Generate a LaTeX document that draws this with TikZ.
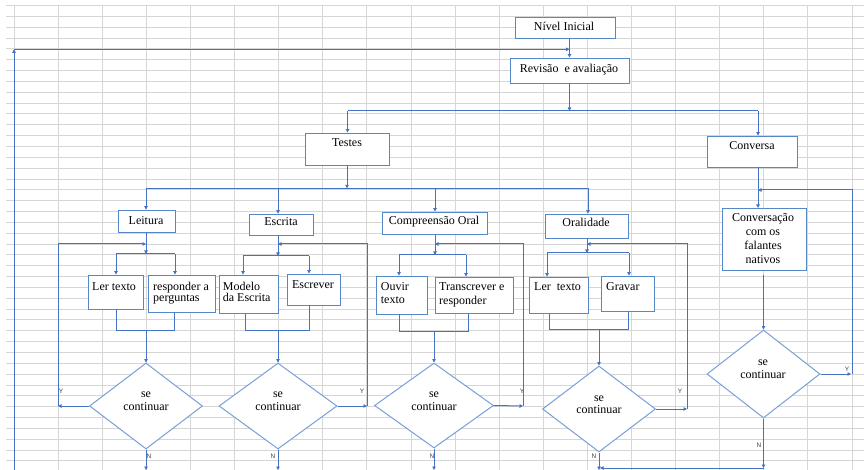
\documentclass[tikz,border=0pt]{standalone}
\usepackage{fontspec}
\setmainfont{Liberation Serif}
\newfontfamily\ynfont{Liberation Sans}
\usetikzlibrary{arrows.meta,shapes.geometric}
\definecolor{conn}{RGB}{68,114,196}
\definecolor{boxc}{RGB}{84,136,200}
\definecolor{dia}{RGB}{120,160,215}
\definecolor{gridc}{RGB}{214,214,214}
\newcommand\fstrut{\rule{0pt}{9pt}}
\begin{document}
\begin{tikzpicture}[x=1pt,y=-1pt,
  box/.style={draw=boxc,line width=0.9pt,fill=white,inner sep=0pt},
  dmd/.style={diamond,draw=dia,line width=1pt,fill=white,inner sep=0pt},
  txt/.style={inner sep=0pt,font=\fontsize{12}{13}\selectfont},
  lab/.style={inner sep=0pt,font=\ynfont\fontsize{6.5}{7}\selectfont,text=black!75},
  ln/.style={draw=conn,line width=1pt},
  arr/.style={ln,-{Triangle[length=3.5pt,width=3.5pt]}}]
\useasboundingbox (0,0) rectangle (864,470);
\fill[white] (0,0) rectangle (864,470);
% spreadsheet grid
\foreach \i in {0,...,19} \draw[gridc,line width=0.8pt] ({14+44.1*\i},6) -- ({14+44.1*\i},470);
\foreach \j in {0,...,42} \draw[gridc,line width=0.8pt] (6,{5.5+10.84*\j}) -- (864,{5.5+10.84*\j});

% boxes
\node[box,minimum width=100pt,minimum height=21pt] (ni) at (565,27.5) {};
\node[box,minimum width=119pt,minimum height=25pt] (rev) at (569.5,70.5) {};
\node[box,minimum width=84pt,minimum height=32pt] (tes) at (347,149) {};
\node[box,minimum width=90pt,minimum height=31pt] (con) at (752,151.5) {};
\node[box,minimum width=57pt,minimum height=22pt] (lei) at (146.5,221) {};
\node[box,minimum width=64pt,minimum height=21pt] (esc) at (281,224.5) {};
\node[box,minimum width=105pt,minimum height=22pt] (com) at (434.5,223) {};
\node[box,minimum width=83pt,minimum height=24pt] (ora) at (586.5,226) {};
\node[box,minimum width=55pt,minimum height=34pt] (ler1) at (115.5,292) {};
\node[box,minimum width=67pt,minimum height=37pt] (res) at (181.5,293.5) {};
\node[box,minimum width=59pt,minimum height=38pt] (mod) at (248.5,294) {};
\node[box,minimum width=53pt,minimum height=31pt] (esv) at (313.5,289.5) {};
\node[box,minimum width=51pt,minimum height=38pt] (ouv) at (401.5,295) {};
\node[box,minimum width=78pt,minimum height=36pt] (tra) at (474,295) {};
\node[box,minimum width=59pt,minimum height=36pt] (ler2) at (558.5,295) {};
\node[box,minimum width=53pt,minimum height=35pt] (gra) at (627.5,293.5) {};
\node[box,minimum width=84pt,minimum height=62pt] (cvs) at (764,239) {};

% diamonds
\node[dmd,minimum width=113pt,minimum height=86pt] (d1) at (146,406) {};
\node[dmd,minimum width=118pt,minimum height=86pt] (d2) at (278,406) {};
\node[dmd,minimum width=119pt,minimum height=85pt] (d3) at (434,405.5) {};
\node[dmd,minimum width=113pt,minimum height=86pt] (d4) at (599,409) {};
\node[dmd,minimum width=113pt,minimum height=88pt] (d5) at (763.5,374) {};

% texts
\node[txt,anchor=base] (tni) at (564,30.5) {Nível Inicial};
\node[txt,anchor=base] (trev) at (569,73) {Revisão\ \ e avaliação};
\node[txt,anchor=base] (ttes) at (347,147) {Testes};
\node[txt,anchor=base] (tcon) at (752,150) {Conversa};
\node[txt,anchor=base] (tlei) at (146,224.5) {Leitura};
\node[txt,anchor=base] (tesc) at (281,225.5) {Escrita};
\node[txt,anchor=base] (tcom) at (434,225) {Compreensão Oral};
\node[txt,anchor=base] (tora) at (586,227) {Oralidade};
\node[txt,anchor=base west] (tler1) at (92,290) {Ler texto};
\node[txt,anchor=north west,align=left,font=\fontsize{12}{11.7}\selectfont] (tres) at (153,281) {\fstrut responder a\\perguntas};
\node[txt,anchor=north west,align=left,font=\fontsize{12}{11.7}\selectfont] (tmod) at (222.7,281) {\fstrut Modelo\\da Escrita};
\node[txt,anchor=base] (tesv) at (313,288) {Escrever};
\node[txt,anchor=north west,align=left,font=\fontsize{12}{13}\selectfont] (touv) at (380.7,281) {\fstrut Ouvir\\texto};
\node[txt,anchor=north west,align=left,font=\fontsize{12}{14}\selectfont] (ttra) at (439,281.5) {\fstrut Transcrever e\\responder};
\node[txt,anchor=base west] (tler2) at (534,290.5) {Ler\ \ texto};
\node[txt,anchor=base west] (tgra) at (606,290) {Gravar};
\node[txt,anchor=north,align=center,font=\fontsize{12}{14}\selectfont] (tcvs) at (763,212.5) {\fstrut Conversação\\com os\\falantes\\nativos};
\node[txt,anchor=north,align=center,font=\fontsize{12}{12.5}\selectfont] (td1) at (146,388.5) {\fstrut se\\continuar};
\node[txt,anchor=north,align=center,font=\fontsize{12}{12.5}\selectfont] (td2) at (278,388.5) {\fstrut se\\continuar};
\node[txt,anchor=north,align=center,font=\fontsize{12}{12.5}\selectfont] (td3) at (434,388.5) {\fstrut se\\continuar};
\node[txt,anchor=north,align=center,font=\fontsize{12}{12.5}\selectfont] (td4) at (599,392) {\fstrut se\\continuar};
\node[txt,anchor=north,align=center,font=\fontsize{12}{12.5}\selectfont] (td5) at (763,356.3) {\fstrut se\\continuar};

% Y / N labels
\node[lab] (y1) at (61,391) {Y};
\node[lab] (y2) at (362,391) {Y};
\node[lab] (y3) at (522,391) {Y};
\node[lab] (y4) at (680,391) {Y};
\node[lab] (y5) at (847,369) {Y};
\node[lab] (n1) at (149,456) {N};
\node[lab] (n2) at (273,456) {N};
\node[lab] (n3) at (432,456) {N};
\node[lab] (n4) at (594,456) {N};
\node[lab] (n5) at (759,445) {N};

% top connectors
\draw[arr] (rev.north |- ni.south) -- (rev.north);
\coordinate (fb0) at (14,470);
\coordinate (fb1) at (14,49.3);
\draw[arr] (fb0) -- (fb1);
\draw[arr] (fb1) -- (fb1 -| rev.north);
\coordinate (s1) at (569.5,111);
\coordinate (s1a) at (347.5,111);
\coordinate (s1b) at (758,111);
\draw[arr] (rev.south) -- (s1);
\draw[ln] (s1a) -- (s1b);
\draw[arr] (s1a) -- (s1a |- tes.north);
\draw[arr] (s1b) -- (s1b |- con.north);

\coordinate (s2) at (347,188.3);
\coordinate (s2a) at (146,188.3);
\coordinate (s2b) at (278,188.3);
\coordinate (s2c) at (435,188.3);
\coordinate (s2d) at (588,188.3);
\draw[arr] (tes.south) -- (s2);
\draw[ln] (s2a) -- (s2d);
\draw[arr] (s2a) -- (s2a |- lei.north);
\draw[arr] (s2b) -- (s2b |- esc.north);
\draw[arr] (s2c) -- (s2c |- com.north);
\draw[arr] (s2d) -- (s2d |- ora.north);

% Leitura
\coordinate (l0) at (146,254);
\coordinate (l1) at (116,254);
\coordinate (l2) at (175,254);
\draw[arr] (l0 |- lei.south) -- (l0);
\draw[ln] (l1) -- (l2);
\draw[arr] (l1) -- (l1 |- ler1.north);
\draw[arr] (l2) -- (l2 |- res.north);
\coordinate (lb1) at (116,330);
\coordinate (lb2) at (174,330);
\coordinate (lb0) at (146,330);
\draw[ln] (lb1 |- ler1.south) -- (lb1) -- (lb2) -- (lb2 |- res.south);
\draw[arr] (lb0) -- (d1.north);
\coordinate (ly) at (58,406);
\coordinate (lyt) at (58,244);
\draw[arr] (d1.west) -- (ly);
\draw[arr] (ly) -- (lyt) -- (lyt -| l0);
\coordinate (lN) at (146,470);
\draw[arr] (d1.south) -- (lN);

% Escrita
\coordinate (e0) at (278,256);
\coordinate (e1) at (243,256);
\coordinate (e2) at (309,256);
\draw[arr] (e0 |- esc.south) -- (e0);
\draw[ln] (e1) -- (e2);
\draw[arr] (e1) -- (e1 |- mod.north);
\draw[arr] (e2) -- (e2 |- esv.north);
\coordinate (eb1) at (245,330);
\coordinate (eb2) at (309,330);
\coordinate (eb0) at (278,330);
\draw[ln] (eb1 |- mod.south) -- (eb1) -- (eb2) -- (eb2 |- esv.south);
\draw[arr] (eb0) -- (d2.north);
\coordinate (ey) at (367,406);
\coordinate (eyt) at (367,244);
\draw[arr] (d2.east) -- (ey);
\draw[arr] (ey) -- (eyt) -- (eyt -| e0);
\coordinate (eN) at (278,470);
\draw[arr] (d2.south) -- (eN);

% Compreensao Oral
\coordinate (c0) at (435,255);
\coordinate (c1) at (399,255);
\coordinate (c2) at (466,255);
\draw[arr] (c0 |- com.south) -- (c0);
\draw[ln] (c1) -- (c2);
\draw[arr] (c1) -- (c1 |- ouv.north);
\draw[arr] (c2) -- (c2 |- tra.north);
\coordinate (cb1) at (399,331);
\coordinate (cb2) at (468,331);
\coordinate (cb0) at (434,331);
\draw[ln] (cb1 |- ouv.south) -- (cb1) -- (cb2) -- (cb2 |- tra.south);
\draw[arr] (cb0) -- (d3.north);
\coordinate (cy) at (523,406);
\coordinate (cyt) at (523,244);
\draw[arr] (d3.east) -- (cy);
\draw[arr] (cy) -- (cyt) -- (cyt -| c0);
\coordinate (cN) at (434,470);
\draw[arr] (d3.south) -- (cN);

% Oralidade
\coordinate (o0) at (587,253);
\coordinate (o1) at (547,253);
\coordinate (o2) at (629,253);
\draw[arr] (o0 |- ora.south) -- (o0);
\draw[ln] (o1) -- (o2);
\draw[arr] (o1) -- (o1 |- ler2.north);
\draw[arr] (o2) -- (o2 |- gra.north);
\coordinate (ob1) at (549,329);
\coordinate (ob2) at (628,329);
\coordinate (ob0) at (599,329);
\draw[ln] (ob1 |- ler2.south) -- (ob1) -- (ob2) -- (ob2 |- gra.south);
\draw[arr] (ob0) -- (d4.north);
\coordinate (oy) at (687,409);
\coordinate (oyt) at (687,244);
\draw[arr] (d4.east) -- (oy);
\draw[arr] (oy) -- (oyt) -- (oyt -| o0);
\coordinate (oN) at (599,470);
\draw[arr] (d4.south) -- (oN);

% Conversa
\coordinate (v0) at (758,208);
\draw[arr] (v0 |- con.south) -- (v0);
\coordinate (vy) at (851,374);
\coordinate (vyt) at (852,190);
\draw[arr] (d5.east) -- (vy);
\draw[arr] (vyt |- vy) -- (vyt) -- (vyt -| v0);
\coordinate (v1) at (763.5,275);
\draw[arr] (v1) -- (d5.north);
\coordinate (vN) at (763.5,468);
\coordinate (vN2) at (600,468);
\draw[arr] (d5.south) -- (vN);
\draw[arr] (vN) -- (vN2);
\end{tikzpicture}
\end{document}
